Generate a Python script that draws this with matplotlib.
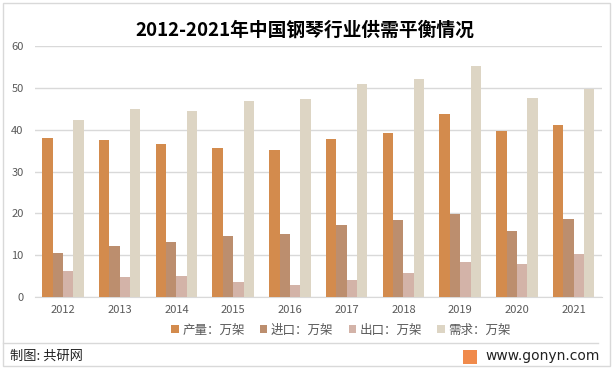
import matplotlib
matplotlib.use("Agg")
import matplotlib.pyplot as plt
import numpy as np
from matplotlib.patches import Rectangle
from matplotlib.lines import Line2D

plt.rcParams['font.family'] = ['Noto Sans CJK SC', 'DejaVu Sans']

years = ['2012', '2013', '2014', '2015', '2016', '2017', '2018', '2019', '2020', '2021']
production = [38.0, 37.5, 36.6, 35.6, 35.1, 37.8, 39.2, 43.7, 39.7, 41.1]
imports = [10.5, 12.2, 13.1, 14.6, 15.1, 17.2, 18.4, 19.8, 15.8, 18.6]
exports = [6.2, 4.8, 5.0, 3.6, 2.9, 4.1, 5.7, 8.4, 7.9, 10.3]
demand = [42.3, 44.9, 44.5, 46.9, 47.3, 50.9, 52.1, 55.2, 47.6, 49.7]
series_names = ['产量：万架', '进口：万架', '出口：万架', '需求：万架']
colors = ['#D38B4D', '#BC8E6E', '#D3B3A8', '#DDD5C4']

W, H = 613, 369
fig = plt.figure(figsize=(W/100, H/100), dpi=100)
ax = fig.add_axes([34.6/W, 1-297/H, (602-34.6)/W, (297-46)/H])

x = np.arange(len(years))
bw = 0.183
for i, (vals, c, n) in enumerate(zip([production, imports, exports, demand], colors, series_names)):
    ax.bar(x + (i-1.5)*bw, vals, width=bw, color=c, label=n, zorder=3)

ax.set_ylim(0, 60)
ax.set_xlim(-0.5, len(years)-0.5)
ax.set_yticks(range(0, 61, 10))
ax.set_xticks(x)
ax.set_xticklabels(years)
ax.yaxis.grid(True, color='#D9D9D9', linewidth=1, zorder=0)
for s in ['top', 'right', 'left']:
    ax.spines[s].set_visible(False)
ax.spines['bottom'].set_color('#D9D9D9')
ax.tick_params(axis='both', length=0, colors='#595959', labelsize=8)
ax.tick_params(axis='y', pad=8)
ax.tick_params(axis='x', pad=6)

fig.text(305/W, 1-30/H, '2012-2021年中国钢琴行业供需平衡情况', ha='center', va='center',
         fontsize=13.5, fontweight='bold', color='#000000')

leg = fig.legend(loc='center', bbox_to_anchor=(341/W, 1-330/H), ncol=4, frameon=False,
                 fontsize=9, handlelength=0.6, handleheight=0.6, handletextpad=0.3,
                 columnspacing=1.2, labelcolor='#595959')

# border and separator
fig.add_artist(Rectangle((3/W, 3/H), (W-6)/W, (H-6)/H, transform=fig.transFigure,
                         fill=False, edgecolor='#D9D9D9', linewidth=1))
fig.add_artist(Line2D([3/W, 598/W], [1-343/H, 1-343/H], transform=fig.transFigure,
                      color='#D9D9D9', linewidth=1))

fig.text(10/W, 1-356/H, '制图: 共研网', ha='left', va='center', fontsize=9.5, color='#222222')
fig.add_artist(Rectangle((463/W, 1-364/H), 14/W, 14/H, transform=fig.transFigure,
                         facecolor='#F08A4B', edgecolor='none'))
fig.text(485/W, 1-356/H, 'www.gonyn.com', ha='left', va='center', fontsize=10, color='#222222',
         family=['DejaVu Sans'])

fig.savefig('out.png', dpi=100)
